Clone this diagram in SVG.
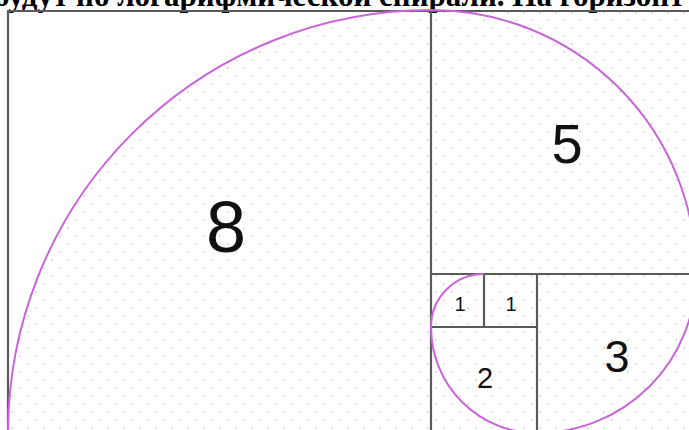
<svg xmlns="http://www.w3.org/2000/svg" width="689" height="430" viewBox="0 0 689 430">
<style>
.ln{stroke:#5a5a5a;stroke-width:2.2;fill:none}
.num{font-family:"Liberation Sans",Arial,sans-serif;fill:#111;text-anchor:middle}
.sp{stroke:#c965d9;stroke-width:2;fill:none}
</style>
<defs>
<pattern id="dots" x="0" y="0" width="16" height="16" patternUnits="userSpaceOnUse">
<circle cx="4" cy="4" r="0.85" fill="#c4c4c4"/>
<circle cx="12" cy="12" r="0.85" fill="#c4c4c4"/>
</pattern>
</defs>
<rect width="689" height="430" fill="#fff"/>
<rect x="8" y="10" width="681" height="420" fill="url(#dots)"/>
<path d="M8,10 L431,10 A423,423 0 0 0 8,433 Z" fill="#fff"/>
<text x="-6" y="6" font-family="Liberation Serif,'Times New Roman',serif" font-weight="bold" font-size="31" fill="#000">будут по логарифмической спирали. На горизонт</text>
<g id="squares">
<g id="sq8"><line class="ln" x1="8" y1="10" x2="8" y2="430"/><line class="ln" x1="8" y1="11" x2="689" y2="11"/><text class="num" x="226" y="252" font-size="72">8</text></g>
<g id="sq5"><line class="ln" x1="431" y1="11" x2="431" y2="430"/><line class="ln" x1="431" y1="274" x2="689" y2="274"/><text class="num" x="567" y="163" font-size="56">5</text></g>
<g id="sq3"><line class="ln" x1="537" y1="274" x2="537" y2="430"/><text class="num" x="617" y="372" font-size="45">3</text></g>
<g id="sq2"><line class="ln" x1="431" y1="327" x2="537" y2="327"/><text class="num" x="485" y="388" font-size="29">2</text></g>
<g id="sq1a"><line class="ln" x1="484" y1="274" x2="484" y2="327"/><text class="num" x="460" y="311" font-size="20">1</text></g>
<g id="sq1b"><text class="num" x="511" y="311" font-size="20">1</text></g>
</g>
<g id="connectors">
<path class="sp" d="M484,274 A53,53 0 0 0 431,327 A106,106 0 0 0 537,433 A159,159 0 0 0 696,274 A265,264 0 0 0 431,10 A423,423 0 0 0 8,433"/>
</g>
</svg>
